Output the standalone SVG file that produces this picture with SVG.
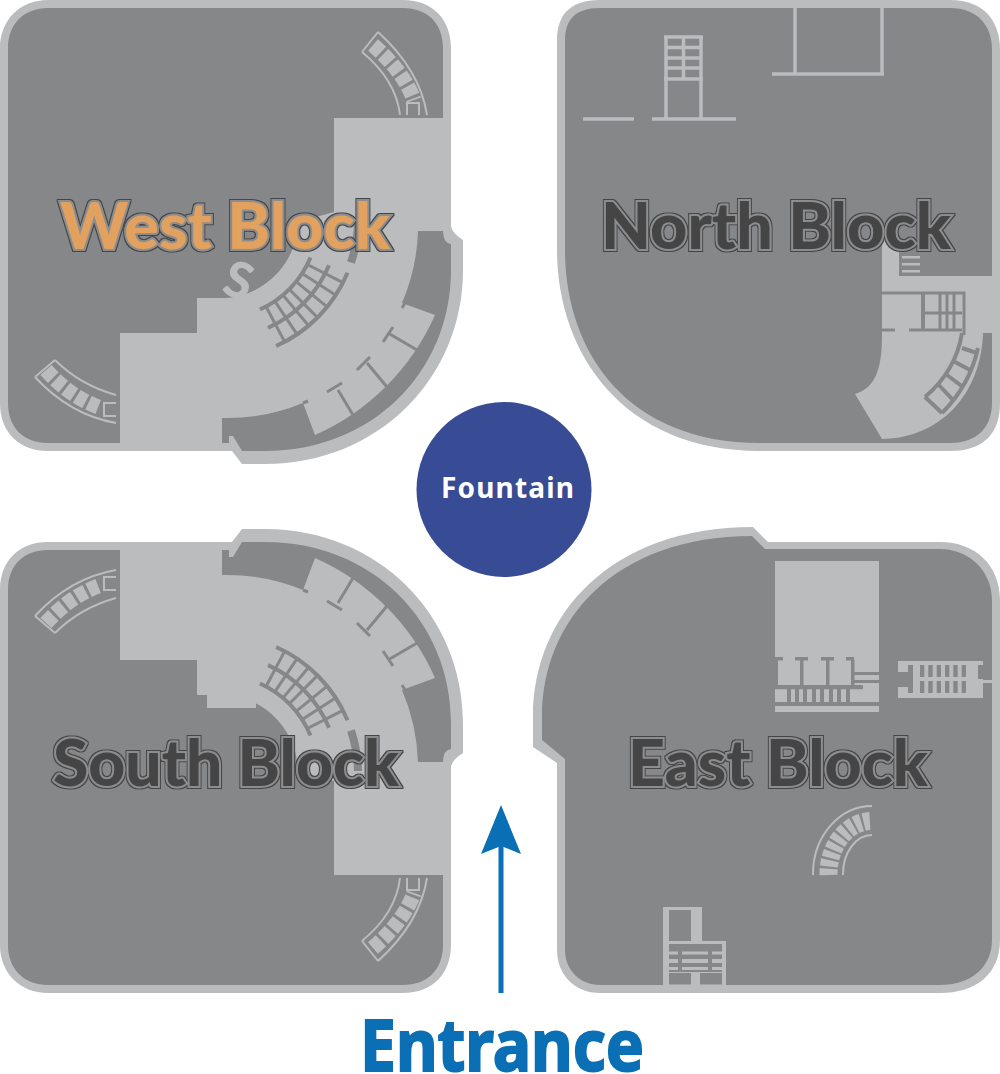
<svg xmlns="http://www.w3.org/2000/svg" xmlns:xlink="http://www.w3.org/1999/xlink" width="1000" height="1074" viewBox="0 0 1000 1074">
<style>
.wall{fill:#bbbcbe}
.floor{fill:#868789}
.hall{fill:#bbbcbe}
.dk{fill:none;stroke:#868789;stroke-width:4}
.dks{fill:none;stroke:#868789;stroke-width:3}
.lt{fill:none;stroke:#bbbcbe;stroke-width:3.5}
.thin{fill:none;stroke:#bbbcbe;stroke-width:2}
.label{font-family:"Lato","Noto Sans",sans-serif;font-weight:900;font-size:64px;stroke:#8c8d8f;stroke-width:4;paint-order:stroke;filter:url(#edge)}
</style>
<defs>
<filter id="edge" x="-5%" y="-20%" width="110%" height="140%">
<feMorphology in="SourceAlpha" operator="dilate" radius="1" result="d"/>
<feFlood flood-color="#454546"/>
<feComposite in2="d" operator="in" result="o"/>
<feMerge><feMergeNode in="o"/><feMergeNode in="SourceGraphic"/></feMerge>
</filter>
<g id="wing">
<path class="wall" d="M48,0H403C433,0 451,20 451,48V226Q452,233 463,240V270C463,378 378,464 265,464H242L232,451H48C20,451 0,433 0,403V48C0,20 20,0 48,0Z"/>
<path class="floor" d="M48,8H403C428,8 443,24 443,48V231Q443,243 451,244V270C451,372 372,451 265,451H242L233,436H229V443H48C24,443 8,428 8,403V48C8,24 24,8 48,8Z"/>
<path class="hall" d="M334,118H443V231H418A198,198 0 0 1 402,303L435,315A235,235 0 0 1 315,435L303,403A198,198 0 0 1 222,418V443H120V333H197V298H227A78,78 0 0 0 298,222L334,212Z"/>
<path class="dk" d="M310.5,257.5A98,98 0 0 1 259.9,309.5M329,265.2A118,118 0 0 1 268,327.8M347.5,272.8A138,138 0 0 1 276.1,346"/>
<path class="dks" d="M307.3,264.5L343,282.7M302.2,273.4L335.8,295.2M296.1,281.6L327.2,306.8M289.3,289.3L317.6,317.6M283,295.1L308.7,325.7M274.8,301.2L297.1,334.4M266,306.5L284.7,341.9"/>
<path fill="none" stroke="#868789" stroke-width="8" d="M351,262.6A138,138 0 0 0 358,222"/>
<path class="dks" d="M417,350L388,333M383,342L393,327M387,387L367,363M357,370L370,357M353,415L338,390M327,392L342,383M402,308L405,303M303,403L308,401"/>
<path class="thin" d="M378,32Q420,70 427,115M362,52Q396,80 400,115M378,32L362,52M407,115V103H419V115"/>
<path fill="none" stroke="#bbbcbe" stroke-width="15" stroke-dasharray="10.500 3" d="M373,45Q404,72 414,100"/>
<path class="thin" d="M55,360Q80,385 116,395M35,377Q70,415 116,423M55,360L35,377M116,403H104V416H116"/>
<path fill="none" stroke="#bbbcbe" stroke-width="15" stroke-dasharray="10.500 3" d="M46,370Q70,397 101,408"/>
</g>
</defs>
<g id="west-block">
<use xlink:href="#wing" href="#wing"/>
<text x="238" y="298" transform="rotate(18 238 283)" text-anchor="middle" fill="#bbbcbe" style="font-family:'Lato',sans-serif;font-weight:900;font-size:50px">S</text>
<text class="label" x="225" y="249" text-anchor="middle" fill="#e2a15f" textLength="330" lengthAdjust="spacingAndGlyphs">West Block</text>
</g>
<g id="north-block">
<path class="wall" d="M600,0H950C985,0 1000,22 1000,50V403C1000,432 985,451 950,451H760C620,451 557,350 557,250V40C557,15 570,0 600,0Z"/>
<path class="floor" d="M600,8H950C978,8 992,26 992,50V403C992,426 978,443 950,443H760C625,443 565,350 565,250V40C565,20 575,8 600,8Z"/>
<path class="lt" d="M795,8V74M882,8V74M772,74H884M583,119H634M652,119H736M666,37V119M701,37V119M664,37H703M666,47.5H701M666,58H701M666,68H701M664,79H703M683.500,37V79"/>
<path class="hall" d="M882,240H899V276H995V333H983C981,395 940,438 882,439L855,394C875,388 882,370 882,335Z"/>
<path fill="#bbbcbe" d="M902,256h18v2.500h-18zM902,263h18v2.500h-18zM902,270h18v2.500h-18z"/>
<path class="dks" d="M882,293H964V335M940,293V331M947,293V331M954,293V331M882,330H895M909,330H962M923,313H962"/>
<path fill="none" stroke="#868789" stroke-width="4" d="M923,293V331"/>
<path class="dk" d="M962,333C958,358 945,380 925,397M978,348C972,375 960,395 942,413M925,397L942,413M962,348L977,353M955,362L970,370M947,375L963,387M937,383L953,400"/>
</g>
<g id="south-block">
<use xlink:href="#wing" href="#wing" transform="translate(0,993) scale(1,-1)"/>
<rect class="hall" x="207" y="695" width="49" height="13"/>
<text class="label" x="226" y="786" text-anchor="middle" fill="#454545" textLength="346" lengthAdjust="spacingAndGlyphs">South Block</text>
</g>
<g id="east-block">
<path class="wall" d="M753,527L768,542H940C975,542 1000,565 1000,600V940C1000,975 975,993 940,993H600C575,993 557,975 557,950V763L533,747V717C533,615 610,527 753,527Z"/>
<path class="floor" d="M752,536L765,549H940C968,549 992,570 992,600V940C992,968 970,985 940,985H600C580,985 565,970 565,950V759L542,740V717C542,620 615,536 752,536Z"/>
<rect class="hall" x="775" y="561" width="104" height="151"/>
<path fill="#868789" d="M775,657h8v3.500h-8zM795,657h13v3.500h-13zM821,657h13v3.500h-13zM846,657h8v3.500h-8zM775,660h3v25h-3zM800,660h3.500v25h-3.500zM826,660h3.500v25h-3.500zM851,660h3.500v25h-3.500zM775,685h88v4.300h-88zM854,672h25v3h-25zM854,680h25v3h-25zM775,702h104v4h-104zM787,689h4v13h-4zM795,689h4v13h-4zM803,689h4v13h-4zM812,689h4v13h-4zM820,689h4v13h-4zM829,689h4v13h-4zM837,689h4v13h-4zM846,689h4v13h-4z"/>
<rect class="hall" x="898" y="661" width="85" height="37"/>
<rect class="hall" x="978" y="680" width="14" height="3"/>
<path fill="#868789" d="M908,665h70v28h-70zM898,672h10v15h-10zM978,665h5v14h-5z"/>
<path fill="#bbbcbe" d="M913,665h7v28h-7zM920,677h58v4h-58zM924.300,665h4v28h-4zM932.700,665h4v28h-4zM941,665h4v28h-4zM949.300,665h4v28h-4zM957.700,665h4v28h-4zM966,665h4v28h-4zM970,665h8v28h-8z"/>
<path class="thin" d="M813,875V874A59,68 0 0 1 872,806M843,875V874A29,39 0 0 1 872,835"/>
<path fill="none" stroke="#bbbcbe" stroke-width="18" pathLength="90" stroke-dasharray="7.400 2.600" d="M828.500,875A43.500,53 0 0 1 872,821"/>
<path class="hall" d="M663,907H702V941H726V985H663Z"/>
<path fill="#868789" d="M669,910h22v31h-22zM669,944h53v28h-53zM669,973h22v11.500h-22zM700,973h22v11.500h-22z"/>
<path fill="#bbbcbe" d="M669,951.500h53v3h-53zM669,959h53v4h-53zM669,967h53v3h-53z"/>
<path fill="#868789" d="M678,944h4v28h-4zM708,944h4v28h-4z"/>
<text class="label" x="778" y="786" text-anchor="middle" fill="#454545" textLength="300" lengthAdjust="spacingAndGlyphs">East Block</text>
</g>
<g id="north-label"><text class="label" x="776" y="249" text-anchor="middle" fill="#454545" textLength="350" lengthAdjust="spacingAndGlyphs">North Block</text></g>
<g id="fountain">
<circle cx="504" cy="489.500" r="87.500" fill="#374c94"/>
<text x="507.500" y="498" text-anchor="middle" fill="#fff" textLength="133" style="font-family:'Noto Sans',sans-serif;font-weight:700;font-size:28px">Fountain</text>
</g>
<g id="connectors">
<path fill="none" stroke="#0a6fb5" stroke-width="5" d="M501,993V846"/>
<path fill="#0a6fb5" d="M501,805L521,854L501,846L481,854Z"/>
</g>
<g id="entrance">
<text x="502" y="1071" text-anchor="middle" fill="#0a6fb5" stroke="#0a6fb5" stroke-width="2" textLength="284" lengthAdjust="spacingAndGlyphs" style="font-family:'Noto Sans',sans-serif;font-weight:700;font-size:71px">Entrance</text>
</g>
</svg>
